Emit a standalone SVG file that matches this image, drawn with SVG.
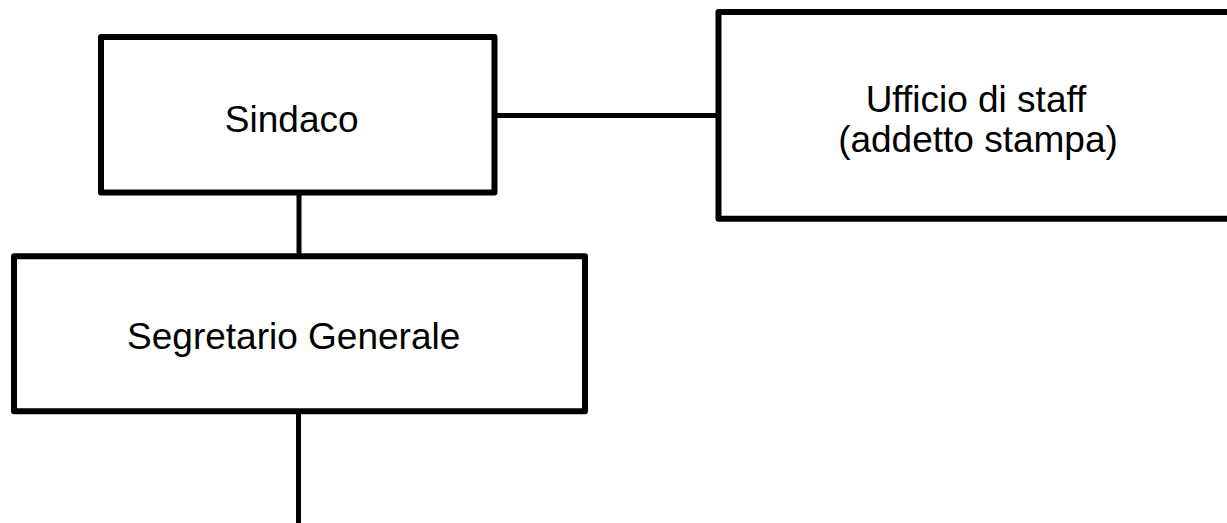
<svg xmlns="http://www.w3.org/2000/svg" width="1227" height="523" viewBox="0 0 1227 523">
<style>
.box{fill:#fff;stroke:#000;stroke-width:6;stroke-linejoin:round}
.conn{stroke:#000;stroke-width:5;fill:none}
.lbl{font-family:"Liberation Sans",Arial,sans-serif;font-size:37px;fill:#000;text-anchor:middle}
</style>
<rect width="1227" height="523" fill="#fff"/>
<g id="connectors">
<line class="conn" x1="299" y1="192" x2="299" y2="256"/>
<line class="conn" x1="494" y1="115.5" x2="718" y2="115.5"/>
<line class="conn" x1="298.5" y1="411" x2="298.5" y2="523"/>
</g>
<g id="sindaco">
<rect class="box" x="101" y="37" width="393.5" height="155.5"/>
<text class="lbl" x="291.7" y="132.3">Sindaco</text>
</g>
<g id="ufficio-staff">
<rect class="box" x="718.5" y="12" width="600" height="206.7"/>
<text class="lbl" x="976" y="112">Ufficio di staff</text>
<text class="lbl" x="978" y="152">(addetto stampa)</text>
</g>
<g id="segretario">
<rect class="box" x="14" y="256.3" width="571" height="155"/>
<text class="lbl" x="293.7" y="349.3">Segretario Generale</text>
</g>
</svg>
